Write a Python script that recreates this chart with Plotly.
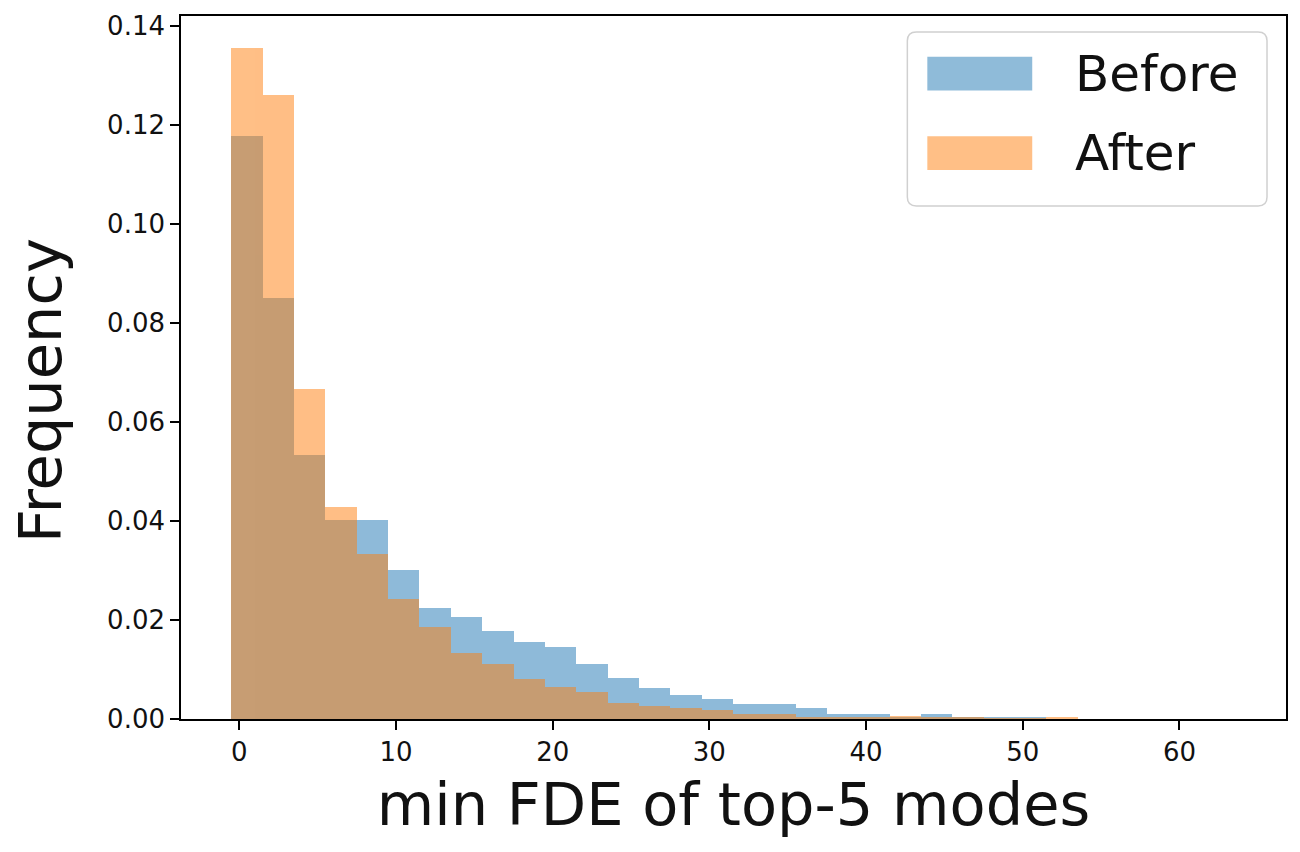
import plotly.graph_objects as go

# Histogram bins (width 2, edges from -0.5 to 63.5)
bin_edges = [-0.5 + 2 * k for k in range(33)]
bin_centers = [(a + b) / 2 for a, b in zip(bin_edges[:-1], bin_edges[1:])]
bin_width = 2.0

before = [0.1178, 0.0851, 0.0534, 0.0403, 0.0403, 0.0301, 0.0225, 0.0207,
          0.0177, 0.0155, 0.0145, 0.0111, 0.0083, 0.0062, 0.0049, 0.0040,
          0.0031, 0.0031, 0.0022, 0.0010, 0.0010, 0.0003, 0.0010, 0.0003,
          0.0005, 0.0005, 0.0, 0.0, 0.0, 0.0, 0.0, 0.0]
after = [0.1357, 0.1261, 0.0668, 0.0428, 0.0334, 0.0242, 0.0185, 0.0133,
         0.0111, 0.0081, 0.0064, 0.0054, 0.0032, 0.0027, 0.0023, 0.0018,
         0.0010, 0.0010, 0.0005, 0.0005, 0.0005, 0.0006, 0.0004, 0.0005,
         0.0002, 0.0002, 0.0005, 0.0, 0.0, 0.0, 0.0, 0.0]

series_names = ["Before", "After"]
series_colors = ["#1f77b4", "#ff7f0e"]

x_ticks = [0, 10, 20, 30, 40, 50, 60]
y_ticks = [0.0, 0.02, 0.04, 0.06, 0.08, 0.10, 0.12, 0.14]

x_title = "min FDE of top-5 modes"
y_title = "Frequency"

FONT = "DejaVu Sans"

fig = go.Figure()
for name, vals, col in zip(series_names, [before, after], series_colors):
    fig.add_trace(go.Bar(
        x=bin_centers, y=vals, width=bin_width, name=name,
        marker=dict(color=col, line=dict(width=0)), opacity=0.5,
        showlegend=False,
    ))

# Plot area geometry in pixels (for the matplotlib-style legend box)
W, H = 1300, 852
ML, MR, MT, MB = 181, 13, 12, 133
PW, PH = W - ML - MR, H - MT - MB


def px(x):
    return (x - ML) / PW


def py(y):
    return (H - MB - y) / PH


shapes = []
# legend frame with rounded corners
x0, x1, y0, y1 = px(908), px(1268), py(28), py(203)
rx, ry = 9 / PW, 9 / PH
path = (f"M {x0+rx},{y0} L {x1-rx},{y0} Q {x1},{y0} {x1},{y0-ry} "
        f"L {x1},{y1+ry} Q {x1},{y1} {x1-rx},{y1} L {x0+rx},{y1} "
        f"Q {x0},{y1} {x0},{y1+ry} L {x0},{y0-ry} Q {x0},{y0} {x0+rx},{y0} Z")
shapes.append(dict(type="path", path=path, xref="paper", yref="paper",
                   fillcolor="rgba(255,255,255,0.8)",
                   line=dict(color="#d0d0d0", width=1.5)))
annotations = []
for i, (name, col) in enumerate(zip(series_names, series_colors)):
    top = 53 + i * 80
    shapes.append(dict(type="rect", xref="paper", yref="paper",
                       x0=px(928), x1=px(1033), y0=py(top), y1=py(top + 34),
                       fillcolor=col, opacity=0.5, line=dict(width=0)))
    annotations.append(dict(text=name, xref="paper", yref="paper",
                            x=px(1074), y=py(top + 17), xanchor="left",
                            yanchor="middle", showarrow=False,
                            font=dict(family=FONT, size=50, color="#111")))

# y-axis title placed like matplotlib's ylabel
annotations.append(dict(text=y_title, xref="paper", yref="paper",
                        x=px(41), y=py(389), xanchor="center", yanchor="middle",
                        textangle=-90, showarrow=False,
                        font=dict(family=FONT, size=59, color="#111")))

fig.update_layout(
    width=W, height=H,
    margin=dict(l=ML, r=MR, t=MT, b=MB),
    paper_bgcolor="white", plot_bgcolor="white",
    barmode="overlay", bargap=0,
    shapes=shapes, annotations=annotations,
    font=dict(family=FONT, color="black"),
)
axis_common = dict(showline=True, mirror=True, linecolor="black", linewidth=1.6,
                   ticks="outside", ticklen=9, tickwidth=1.6, tickcolor="black",
                   showgrid=False, zeroline=False,
                   tickfont=dict(family=FONT, size=26, color="#111"))
fig.update_xaxes(range=[-3.72, 66.8], tickvals=x_ticks,
                 title=dict(text=x_title,
                            font=dict(family=FONT, size=59, color="#111"),
                            standoff=18),
                 **axis_common)
fig.update_yaxes(range=[0, 0.1421], tickvals=y_ticks, tickformat=".2f",
                 **axis_common)

fig.write_html("out.html")
